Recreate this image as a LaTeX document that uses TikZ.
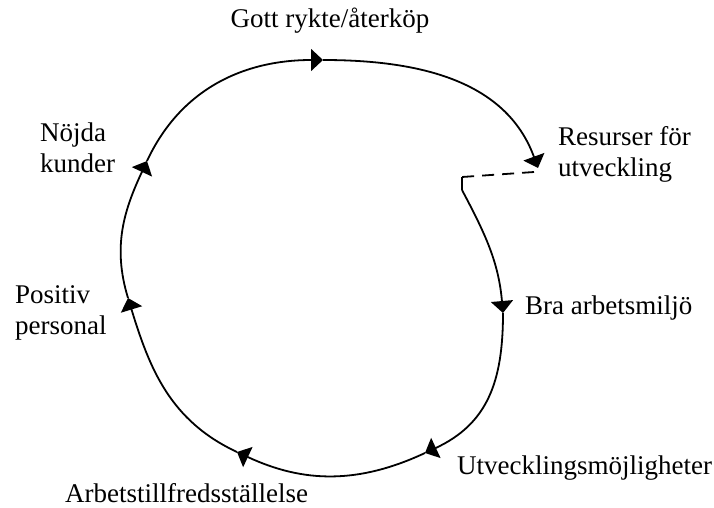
\documentclass[tikz,border=0pt]{standalone}
\usepackage{fontspec}
\setmainfont{Liberation Serif}
\usetikzlibrary{arrows.meta}
\begin{document}
\begin{tikzpicture}[x=1pt,y=1pt,
  lbl/.style={inner sep=0pt,font=\fontsize{27}{31}\selectfont},
  flow/.style={line width=1.8pt,-{Triangle[length=12pt,width=22pt]}},
  plain/.style={line width=1.8pt},
  dashline/.style={line width=1.8pt,dash pattern=on 12pt off 8pt}]
\useasboundingbox (0,0) rectangle (714,507);
% labels
\node[lbl,anchor=base] (gott) at (330,479) {Gott rykte/återköp};
\node[lbl,anchor=west,align=left] (res) at (558,353) {Resurser för\\utveckling};
\node[lbl,anchor=base west] (bra) at (525,193) {Bra arbetsmiljö};
\node[lbl,anchor=base west] (utv) at (457,33) {Utvecklingsmöjligheter};
\node[lbl,anchor=base west] (arb) at (65,5) {Arbetstillfredsställelse};
\node[lbl,anchor=west,align=left] (pos) at (15,194) {Positiv\\personal};
\node[lbl,anchor=west,align=left] (noj) at (40,359) {Nöjda\\kunder};
% points on the cycle
\coordinate (s) at (462,330);
\coordinate (c) at (462,317);
\coordinate (t3) at (503,194);
\coordinate (t4) at (425,54);
\coordinate (t5) at (237,55);
\coordinate (t6) at (128,209);
\coordinate (t7) at (147,346);
\coordinate (t1) at (323,447);
\coordinate (t2) at (538,339);
\coordinate (d) at (534,335);
% cycle
\draw[dashline] (d) -- (s);
\draw[plain] (s) -- (c);
\draw[flow] (c) to[out=-62,in=95] (t3);
\draw[flow] (t3) to[out=-90,in=25,looseness=1.1] (t4);
\draw[flow] (t4) to[out=205,in=-25] (t5);
\draw[flow] (t5) to[out=155,in=287] (t6);
\draw[flow] (t6) to[out=107,in=245] (t7);
\draw[flow] (t7) to[out=65,in=180] (t1);
\draw[flow] (t1) to[out=0,in=110] (t2);
\end{tikzpicture}
\end{document}
